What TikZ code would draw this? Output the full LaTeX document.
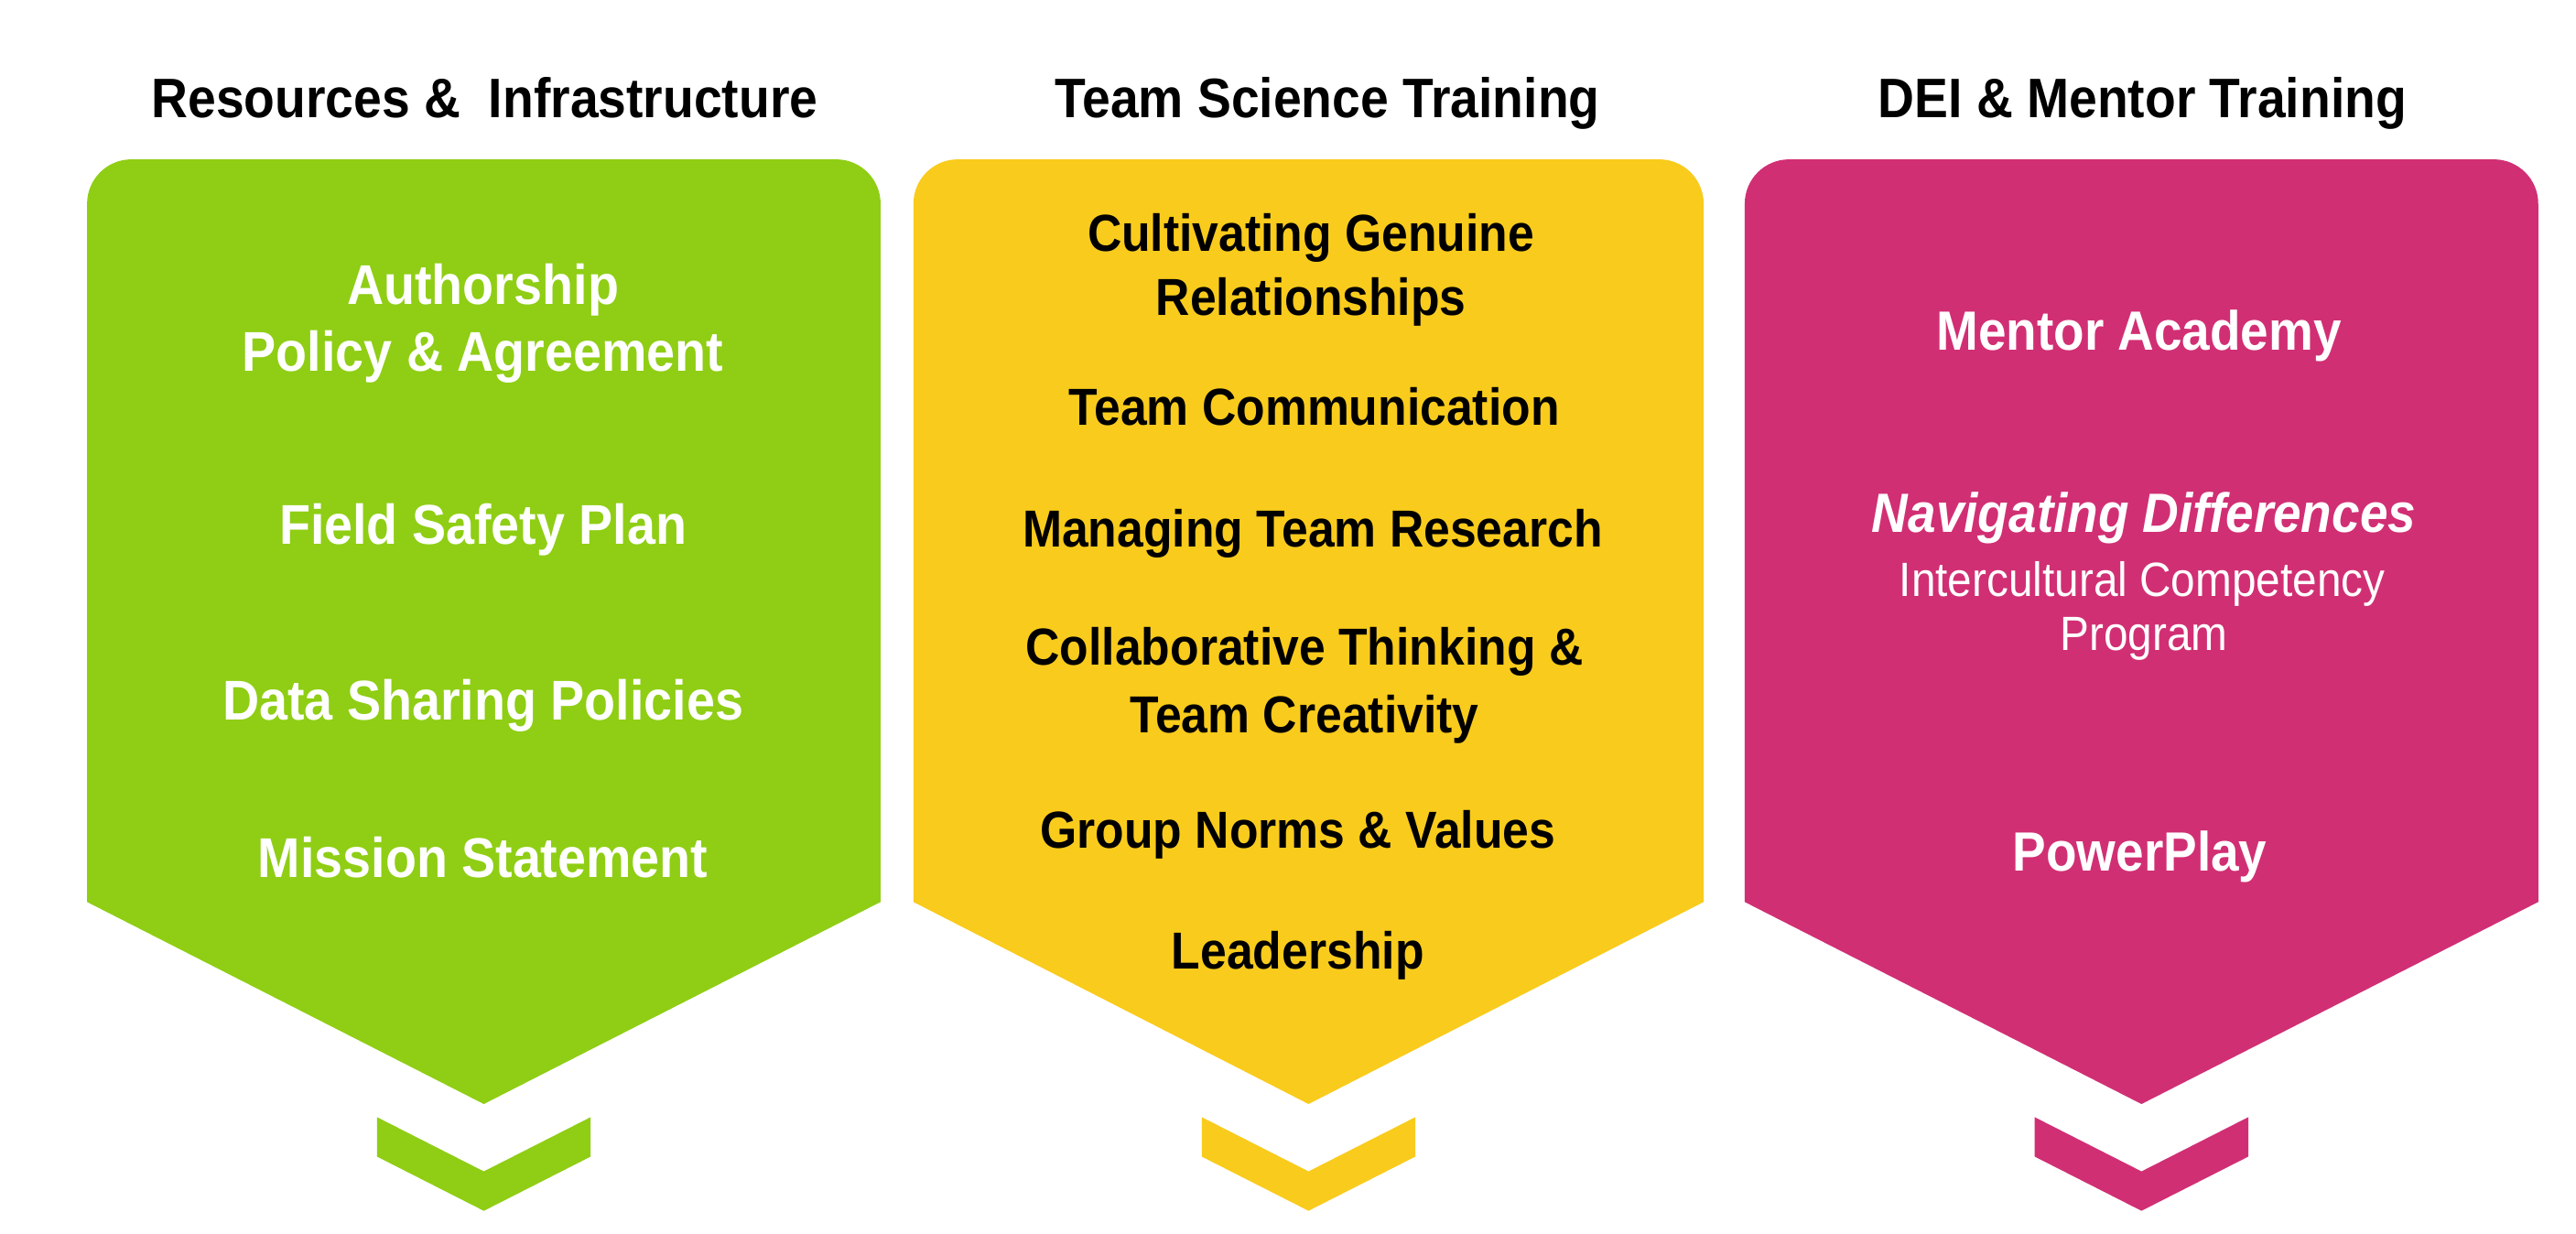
\documentclass[tikz,border=0pt]{standalone}
\usepackage{graphicx}
\usepackage{fontspec}
\setmainfont{Liberation Sans}
\definecolor{pgreen}{RGB}{143,206,20}
\definecolor{pyellow}{RGB}{249,203,28}
\definecolor{ppink}{RGB}{209,47,116}
\newcommand\vst[1]{\scalebox{1}[1.1]{#1}}
\begin{document}
\begin{tikzpicture}[x=0.5pt,y=-0.5pt,
  hd/.style={anchor=base,inner sep=0pt,text=black,font=\fontsize{15.4}{18}\selectfont\bfseries},
  gtxt/.style={anchor=base,inner sep=0pt,text=white,font=\fontsize{15.5}{18}\selectfont\bfseries},
  ytxt/.style={anchor=base,inner sep=0pt,text=black,font=\fontsize{14.4}{18}\selectfont\bfseries},
  ptxt/.style={anchor=base,inner sep=0pt,text=white,font=\fontsize{15.3}{18}\selectfont\bfseries},
  pitxt/.style={anchor=base,inner sep=0pt,text=white,font=\fontsize{15.3}{18}\selectfont\bfseries\itshape},
  psub/.style={anchor=base,inner sep=0pt,text=white,font=\fontsize{13.3}{16}\selectfont},
]
\useasboundingbox[fill=white] (0,0) rectangle (1568,751);

% panels and chevrons: colour, left, right, centre
\foreach \c/\l/\r/\m in {pgreen/53/536/294.5, pyellow/556/1037/796.5, ppink/1062/1545/1303.5}{
  \fill[\c] (\l,549) -- (\l,124) arc[start angle=180, end angle=270, radius=27]
    -- (\r-27,97) arc[start angle=270, end angle=360, radius=27]
    -- (\r,549) -- (\m,672) -- cycle;
  \fill[\c] (\m-65,680) -- (\m,713) -- (\m+65,680) -- (\m+65,704) -- (\m,737) -- (\m-65,704) -- cycle;
}

% headings
\node[hd] (h1) at (295,71.5) {\vst{Resources \&\ \ Infrastructure}};
\node[hd] (h2) at (808,71.5) {\vst{Team Science Training}};
\node[hd] (h3) at (1304,71.5) {\vst{DEI \& Mentor Training}};

% green
\node[gtxt] (g1a) at (294,185) {\vst{Authorship}};
\node[gtxt] (g1b) at (294,226) {\vst{Policy \& Agreement}};
\node[gtxt] (g2) at (294,331) {\vst{Field Safety Plan}};
\node[gtxt] (g3) at (294,438) {\vst{Data Sharing Policies}};
\node[gtxt] (g4) at (294,534) {\vst{Mission Statement}};

% yellow
\node[ytxt] (y1a) at (798,153) {\vst{Cultivating Genuine}};
\node[ytxt] (y1b) at (798,192) {\vst{Relationships}};
\node[ytxt] (y2) at (800,259) {\vst{Team Communication}};
\node[ytxt] (y3) at (799,333) {\vst{Managing Team Research}};
\node[ytxt] (y4a) at (794,405) {\vst{Collaborative Thinking \&}};
\node[ytxt] (y4b) at (794,446) {\vst{Team Creativity}};
\node[ytxt] (y5) at (790,516) {\vst{Group Norms \& Values}};
\node[ytxt] (y6) at (790,590) {\vst{Leadership}};

% pink
\node[ptxt] (p1) at (1302,213) {\vst{Mentor Academy}};
\node[pitxt] (p2) at (1305,324) {\vst{Navigating Differences}};
\node[psub] (p2a) at (1304,363) {\vst{Intercultural Competency}};
\node[psub] (p2b) at (1305,396) {\vst{Program}};
\node[ptxt] (p3) at (1302.5,530) {\vst{PowerPlay}};
\end{tikzpicture}
\end{document}
